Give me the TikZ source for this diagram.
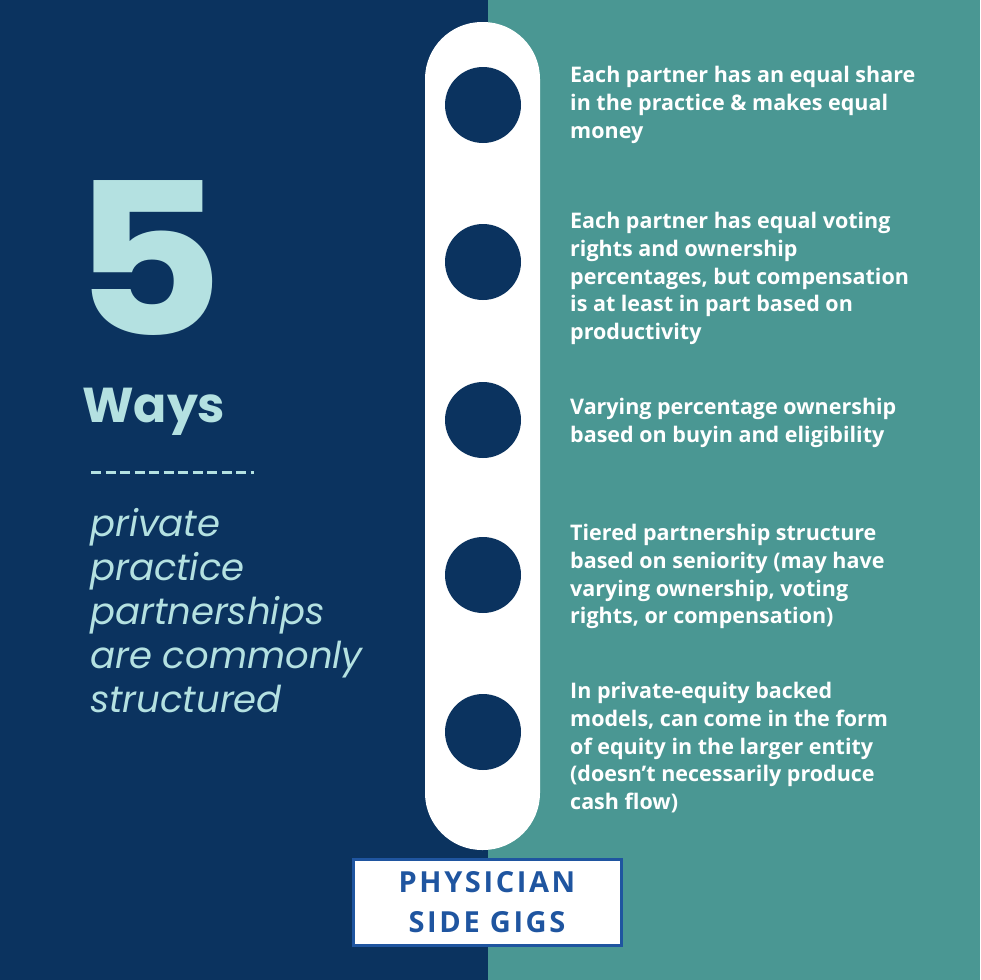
\documentclass[tikz,border=0pt]{standalone}
\usepackage{fontspec}
\setmainfont{Open Sans}
\newfontfamily\pop{Poppins}
\newfontfamily\logofont[LetterSpace=9]{Open Sans}
\definecolor{navy}{HTML}{0B335F}
\definecolor{teal}{HTML}{4A9793}
\definecolor{ltblue}{HTML}{B4E1E1}
\definecolor{logoblue}{HTML}{1F55A0}
\tikzset{
  item/.style={anchor=north west,align=left,text=white,font=\fontsize{21.5}{27.8}\selectfont\bfseries,inner sep=0pt},
  dot/.style={circle,fill=navy,minimum size=76pt,inner sep=0pt},
}
\begin{document}
\begin{tikzpicture}[x=1pt,y=-1pt]
\useasboundingbox (0,0) rectangle (980,980);
\fill[navy] (0,0) rectangle (488,980);
\fill[teal] (488,0) rectangle (980,980);
\fill[white,rounded corners=57pt] (425,22) rectangle (540,850);
\foreach \i/\y in {1/105,2/262,3/420,4/575,5/732} \node[dot] (c\i) at (483,\y) {};
\node[item] (t1) at (570,66) {Each partner has an equal share\\in the practice \& makes equal\\money};
\node[item] (t2) at (570,212) {Each partner has equal voting\\rights and ownership\\percentages, but compensation\\is at least in part based on\\productivity};
\node[item] (t3) at (570,398) {Varying percentage ownership\\based on buyin and eligibility};
\node[item] (t4) at (570,524) {Tiered partnership structure\\based on seniority (may have\\varying ownership, voting\\rights, or compensation)};
\node[item] (t5) at (570,682) {In private-equity backed\\models, can come in the form\\of equity in the larger entity\\(doesn’t necessarily produce\\cash flow)};
\node[anchor=base west,inner sep=0pt,text=ltblue,font=\pop\fontsize{212}{212}\selectfont\bfseries,xscale=1.1] (five) at (72,335) {5};
\node[anchor=base west,inner sep=0pt,text=ltblue,font=\pop\fontsize{49}{49}\selectfont\bfseries] (ways) at (82,422) {Ways};
\coordinate (d1) at (91,472); \coordinate (d2) at (254,472);
\draw[ltblue,line width=3pt,dash pattern=on 10pt off 4.5pt] (d1) -- (d2);
\node[anchor=north west,align=left,inner sep=0pt,text=ltblue,font=\pop\fontsize{37}{44}\selectfont\itshape] (sub) at (90,508) {private\\practice\\partnerships\\are commonly\\structured};
\node[draw=logoblue,line width=3pt,fill=white,minimum width=268pt,minimum height=86pt,align=center,text=logoblue,font=\logofont\fontsize{29}{40}\selectfont\bfseries] (logo) at (487,902) {PHYSICIAN\\SIDE GIGS};
\end{tikzpicture}
\end{document}
